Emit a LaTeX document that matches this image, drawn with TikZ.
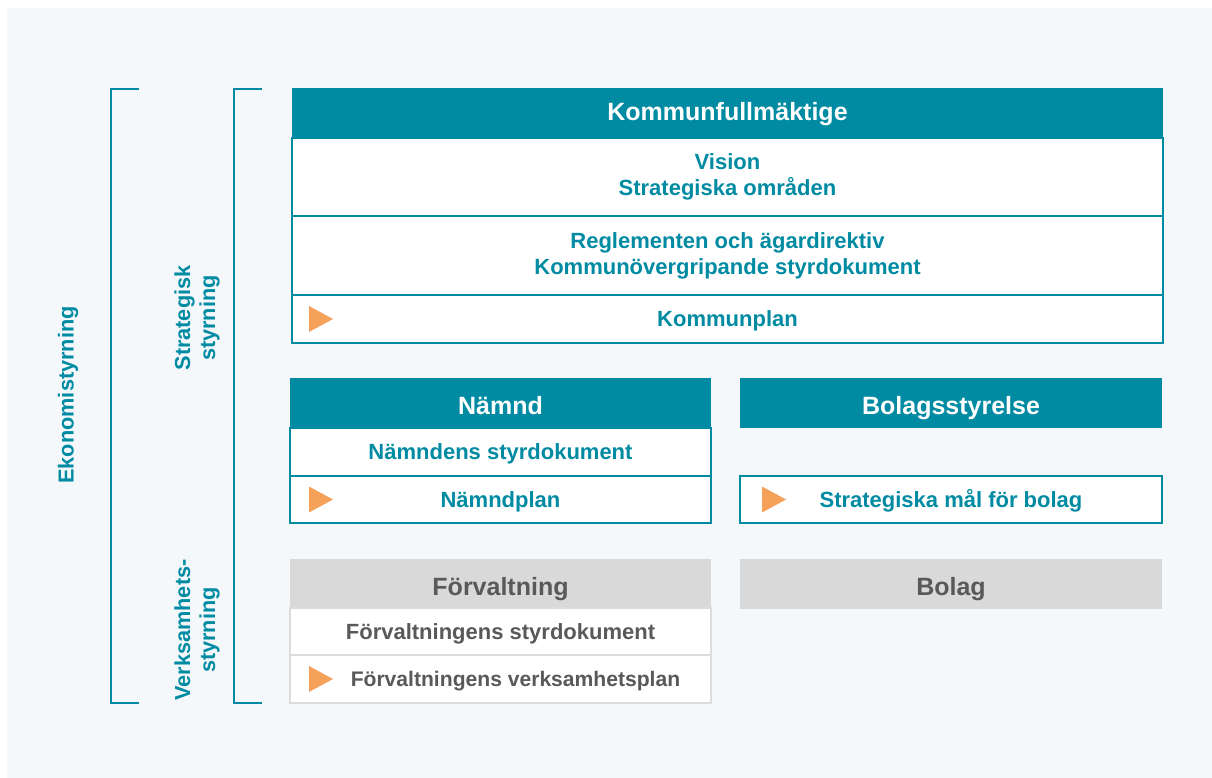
\documentclass[tikz,border=0pt]{standalone}
\usepackage{fontspec}
\setmainfont{Liberation Sans}
\usepackage{xcolor}
\usepackage{tikz}
\usetikzlibrary{positioning}

\definecolor{kteal}{HTML}{008BA3}
\definecolor{korange}{HTML}{F5A15A}
\definecolor{kgrey}{HTML}{D9D9D9}
\definecolor{kgreyline}{HTML}{DCDCDC}
\definecolor{kdark}{HTML}{595959}
\definecolor{kbg}{HTML}{F4F8FB}

\newcommand{\hdfont}{\bfseries\fontsize{25}{29}\selectfont}
\newcommand{\rwfont}{\bfseries\fontsize{22}{26}\selectfont}
\newcommand{\sdfont}{\bfseries\fontsize{21.7}{25}\selectfont}
% orange marker at the left end of a plan row
\newcommand{\plantri}[2]{\fill[korange] ([xshift=#2pt]#1.west) ++(0,-13) -- ++(24,13) -- ++(-24,13) -- cycle;}

\begin{document}
\begin{tikzpicture}[x=1pt, y=-1pt,
    hd/.style={anchor=north west, inner sep=0pt, outer sep=0pt, minimum height=50pt, fill=#1,
        font=\hdfont, text height=22.5pt, text depth=0pt},
    hd/.default=kteal,
    rw/.style={anchor=north west, inner sep=0pt, outer sep=0pt, draw=#1, line width=1.6pt, fill=white, align=center, font=\rwfont},
    rw/.default=kteal,
    one/.style={text height=15.8pt, text depth=0pt},
    brk/.style={draw=kteal, line width=1.8pt},
    side/.style={rotate=90, text=kteal, align=center, font=\sdfont},
]
\useasboundingbox (0,0) rectangle (1212,778);
\fill[kbg] (7,8) rectangle (1212,778);

% Kommunfullmaktige
\node[hd, text height=16pt, minimum width=871pt, text=white] (kf) at (292,88) {Kommunfullmäktige};
\node[rw, minimum width=871pt, minimum height=78pt, text=kteal] (vis) at (292,138) {Vision\\Strategiska områden};
\node[rw, minimum width=871pt, minimum height=79pt, text=kteal] (reg) at (292,216) {Reglementen och ägardirektiv\\Kommunövergripande styrdokument};
\node[rw, one, minimum width=871pt, minimum height=48pt, text=kteal] (kp) at (292,295) {Kommunplan};
\plantri{kp}{17}

% Namnd
\node[hd, minimum width=421pt, text=white] (nd) at (290,378) {Nämnd};
\node[rw, one, minimum width=421pt, minimum height=48pt, text=kteal] (nsd) at (290,428) {Nämndens styrdokument};
\node[rw, one, minimum width=421pt, minimum height=47pt, text=kteal] (np) at (290,476) {Nämndplan};
\plantri{np}{19}

% Bolagsstyrelse
\node[hd, minimum width=422pt, text=white] (bs) at (740,378) {Bolagsstyrelse};
\node[rw, one, minimum width=422pt, minimum height=47pt, text=kteal] (smb) at (740,476) {Strategiska mål för bolag};
\plantri{smb}{22}

% Forvaltning och bolag
\node[hd=kgrey, minimum width=421pt, text=kdark] (fv) at (290,559) {Förvaltning};
\node[rw=kgreyline, one, minimum width=421pt, minimum height=47pt, text=kdark] (fsd) at (290,608) {Förvaltningens styrdokument};
\node[rw=kgreyline, one, minimum width=421pt, minimum height=48pt, text=kdark,
    font=\bfseries\fontsize{21.1}{25}\selectfont] (fvp) at (290,655) {\hspace*{30pt}Förvaltningens verksamhetsplan};
\plantri{fvp}{19}
\node[hd=kgrey, minimum width=422pt, text=kdark] (bo) at (740,559) {Bolag};

% brackets and side labels
\draw[brk] (139,89) -- (111,89) -- (111,703) -- (139,703);
\draw[brk] (262,89) -- (234,89) -- (234,703) -- (262,703);
\node[side] (eko) at (68,395) {Ekonomistyrning};
\node[side] (strat) at (197,318) {Strategisk\\styrning};
\node[side] (verk) at (197,630) {Verksamhets-\\styrning};
\end{tikzpicture}
\end{document}
